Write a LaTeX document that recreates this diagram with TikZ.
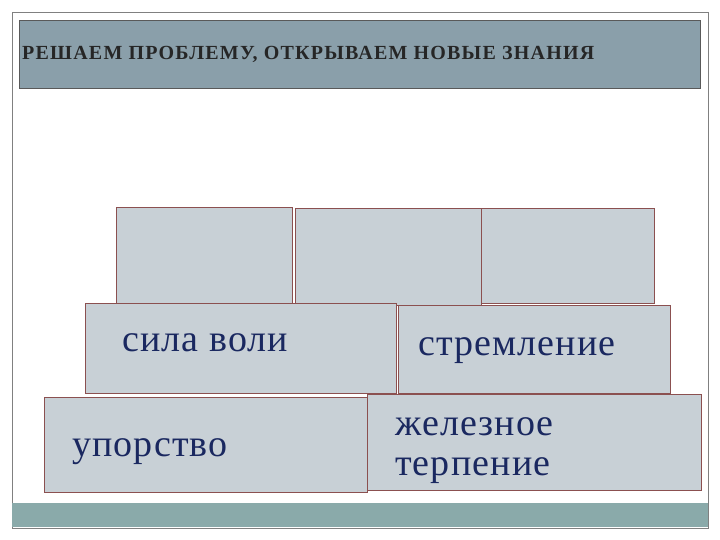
\documentclass[tikz,border=0pt]{standalone}
\usepackage{fontspec}
\setmainfont{Liberation Serif}
\definecolor{boxfill}{HTML}{C8D0D6}
\definecolor{boxline}{HTML}{8B5050}
\definecolor{txt}{HTML}{1A2860}
\definecolor{titlebg}{HTML}{8A9FAA}
\definecolor{barbg}{HTML}{8AAAAA}
\begin{document}
\begin{tikzpicture}[x=1pt,y=-1pt,
  brick/.style={draw=boxline,fill=boxfill,line width=0.8pt},
  big/.style={font=\fontsize{38}{40}\selectfont,text=txt,anchor=west,align=left,inner sep=0}]
\useasboundingbox (0,0) rectangle (720,540);
\draw[gray,line width=0.8pt] (12,12) rectangle (708,528);
\fill[barbg] (12,503) rectangle (708,527);
\node[draw=gray!70!black,fill=titlebg,minimum width=681pt,minimum height=68pt,anchor=north west,inner sep=0] (title) at (19,20) {};
\node[anchor=west,inner sep=0,font=\bfseries\fontsize{20}{24}\selectfont,text=black!85] (tt) at (22,54) {\addfontfeature{LetterSpace=6}РЕШАЕМ ПРОБЛЕМУ, ОТКРЫВАЕМ НОВЫЕ ЗНАНИЯ};
\path[brick] (116,207) rectangle (292,303);
\path[brick] (295,208) rectangle (481,305);
\path[brick] (481,208) rectangle (654,303);
\path[brick] (85,303) rectangle (396,393);
\path[brick] (398,305) rectangle (670,393);
\path[brick] (44,397) rectangle (367,492);
\path[brick] (367,394) rectangle (701,490);
\node[big] (a) at (122,343) {\addfontfeature{LetterSpace=3}сила воли};
\node[big] (b) at (418,351) {\addfontfeature{LetterSpace=3}стремление};
\node[big] (c) at (72,452) {\addfontfeature{LetterSpace=3}упорство};
\node[big] (d) at (395,451) {\addfontfeature{LetterSpace=3}железное\\\addfontfeature{LetterSpace=3}терпение};
\end{tikzpicture}
\end{document}
